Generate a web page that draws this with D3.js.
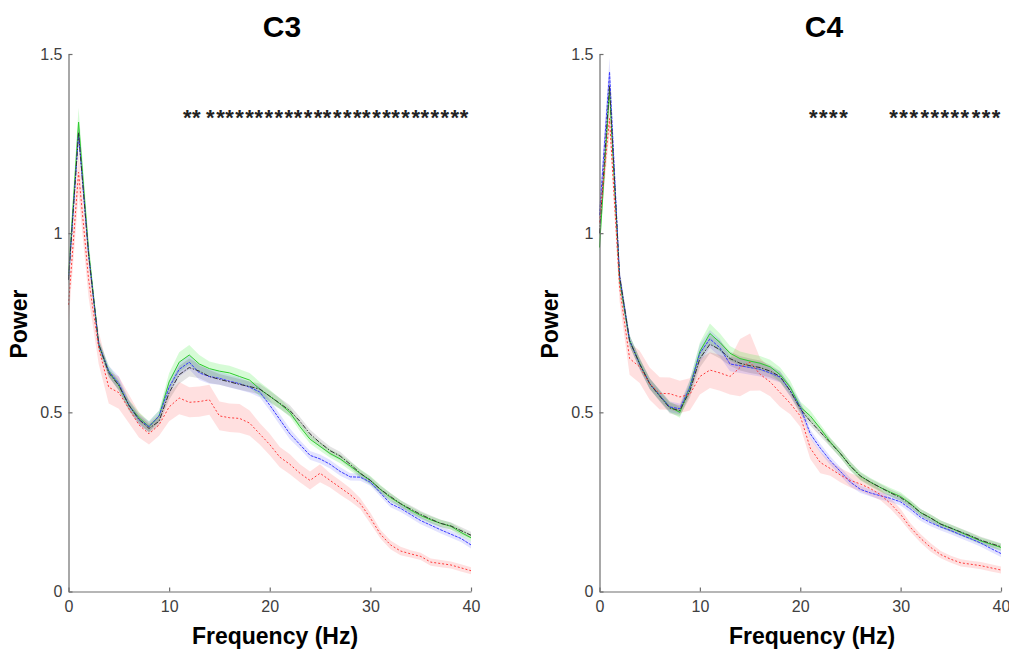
<!DOCTYPE html>
<html>
<head>
<meta charset="utf-8">
<script src="https://cdn.jsdelivr.net/npm/d3@7"></script>
<style>
  html, body { margin: 0; padding: 0; background: #fff; }
  svg { display: block; font-family: "Liberation Sans", Arial, sans-serif; }
</style>
</head>
<body>
<svg id="chart" width="1009" height="653"></svg>
<script>
// ---------------- DATA ----------------
const freqs = [0,1,2,3,4,5,6,7,8,9,10,11,12,13,14,15,16,17,18,19,20,21,22,23,24,25,26,27,28,29,30,31,32,33,34,35,36,37,38,39,40];

const c3Green = [0.88,1.31,0.95,0.69,0.615,0.575,0.52,0.485,0.46,0.49,0.585,0.64,0.66,0.635,0.622,0.615,0.61,0.60,0.59,0.565,0.545,0.524,0.50,0.46,0.425,0.405,0.385,0.37,0.35,0.329,0.31,0.285,0.262,0.245,0.227,0.212,0.20,0.19,0.182,0.165,0.15];
const c3Blue  = [0.87,1.28,0.94,0.69,0.615,0.58,0.52,0.48,0.46,0.49,0.57,0.62,0.64,0.61,0.60,0.595,0.587,0.58,0.57,0.557,0.52,0.48,0.44,0.41,0.38,0.37,0.355,0.335,0.32,0.319,0.305,0.275,0.245,0.232,0.215,0.198,0.185,0.172,0.16,0.148,0.13];
const c3Black = [0.87,1.28,0.94,0.69,0.61,0.575,0.52,0.48,0.455,0.475,0.555,0.605,0.625,0.615,0.60,0.592,0.585,0.578,0.572,0.565,0.545,0.525,0.505,0.475,0.44,0.415,0.393,0.378,0.355,0.33,0.31,0.285,0.265,0.245,0.23,0.215,0.202,0.19,0.183,0.17,0.157];
const c3Red   = [0.80,1.17,0.87,0.68,0.57,0.555,0.51,0.465,0.44,0.465,0.515,0.54,0.528,0.53,0.535,0.49,0.485,0.483,0.47,0.44,0.41,0.375,0.355,0.33,0.31,0.33,0.31,0.29,0.27,0.245,0.205,0.16,0.13,0.113,0.105,0.098,0.082,0.078,0.074,0.066,0.058];

const c3GreenErr = [0.03,0.04,0.03,0.015,0.015,0.015,0.015,0.015,0.015,0.015,0.025,0.028,0.028,0.025,0.02,0.02,0.02,0.02,0.02,0.02,0.018,0.015,0.012,0.012,0.012,0.012,0.012,0.012,0.012,0.012,0.012,0.012,0.012,0.01,0.01,0.01,0.01,0.01,0.01,0.01,0.01];
const c3BlueErr  = [0.02,0.03,0.02,0.015,0.015,0.02,0.015,0.015,0.015,0.015,0.02,0.02,0.02,0.02,0.02,0.018,0.018,0.018,0.015,0.015,0.015,0.015,0.015,0.012,0.012,0.012,0.012,0.012,0.01,0.01,0.01,0.01,0.01,0.01,0.01,0.01,0.01,0.01,0.01,0.01,0.01];
const c3BlackErr = [0.02,0.03,0.02,0.012,0.012,0.012,0.012,0.012,0.012,0.012,0.02,0.025,0.025,0.02,0.018,0.015,0.015,0.015,0.015,0.015,0.015,0.015,0.015,0.012,0.012,0.012,0.012,0.012,0.01,0.01,0.01,0.01,0.01,0.01,0.01,0.01,0.01,0.01,0.01,0.01,0.01];
const c3RedErr   = [0.05,0.06,0.05,0.045,0.045,0.045,0.04,0.035,0.03,0.03,0.04,0.045,0.042,0.042,0.042,0.04,0.04,0.04,0.035,0.03,0.03,0.028,0.028,0.025,0.025,0.025,0.02,0.02,0.018,0.015,0.015,0.012,0.012,0.012,0.01,0.01,0.01,0.01,0.01,0.01,0.01];

const c4Green = [0.96,1.40,0.87,0.70,0.637,0.58,0.547,0.515,0.50,0.57,0.67,0.72,0.695,0.665,0.65,0.643,0.637,0.627,0.605,0.57,0.515,0.49,0.455,0.417,0.385,0.35,0.322,0.305,0.29,0.277,0.265,0.245,0.22,0.205,0.188,0.177,0.165,0.153,0.141,0.132,0.123];
const c4Blue  = [1.05,1.45,0.88,0.70,0.635,0.58,0.547,0.515,0.51,0.57,0.665,0.705,0.68,0.635,0.63,0.625,0.62,0.61,0.598,0.56,0.515,0.44,0.40,0.365,0.335,0.305,0.285,0.275,0.267,0.26,0.25,0.23,0.207,0.192,0.18,0.17,0.158,0.147,0.135,0.12,0.106];
const c4Black = [1.00,1.41,0.88,0.70,0.635,0.58,0.545,0.512,0.505,0.56,0.65,0.69,0.675,0.65,0.637,0.63,0.625,0.615,0.60,0.56,0.51,0.475,0.445,0.415,0.385,0.35,0.322,0.305,0.29,0.275,0.262,0.243,0.22,0.205,0.188,0.177,0.166,0.155,0.143,0.134,0.125];
const c4Red   = [1.03,1.32,0.85,0.65,0.627,0.58,0.553,0.552,0.543,0.55,0.60,0.618,0.61,0.60,0.625,0.64,0.606,0.585,0.555,0.525,0.49,0.40,0.36,0.343,0.325,0.31,0.30,0.287,0.27,0.245,0.215,0.178,0.148,0.123,0.103,0.09,0.08,0.076,0.072,0.066,0.06];

const c4GreenErr = [0.02,0.03,0.02,0.015,0.015,0.015,0.015,0.015,0.015,0.02,0.025,0.028,0.025,0.02,0.02,0.02,0.02,0.02,0.02,0.018,0.015,0.015,0.012,0.012,0.012,0.012,0.012,0.012,0.012,0.012,0.012,0.01,0.01,0.01,0.01,0.01,0.01,0.01,0.01,0.01,0.01];
const c4BlueErr  = [0.03,0.04,0.02,0.015,0.015,0.015,0.015,0.015,0.015,0.02,0.025,0.025,0.025,0.02,0.02,0.02,0.02,0.018,0.015,0.015,0.015,0.012,0.012,0.012,0.012,0.012,0.01,0.01,0.01,0.01,0.01,0.01,0.01,0.01,0.01,0.01,0.01,0.01,0.01,0.01,0.01];
const c4BlackErr = [0.02,0.03,0.02,0.015,0.015,0.015,0.015,0.015,0.015,0.02,0.025,0.025,0.025,0.02,0.02,0.02,0.02,0.018,0.015,0.015,0.015,0.012,0.012,0.012,0.012,0.012,0.01,0.01,0.01,0.01,0.01,0.01,0.01,0.01,0.01,0.01,0.01,0.01,0.01,0.01,0.01];
const c4RedErr   = [0.04,0.04,0.04,0.045,0.045,0.045,0.045,0.045,0.045,0.045,0.05,0.05,0.05,0.05,0.08,0.08,0.045,0.04,0.04,0.03,0.03,0.03,0.03,0.02,0.02,0.02,0.02,0.02,0.015,0.015,0.015,0.012,0.012,0.012,0.01,0.01,0.01,0.01,0.01,0.01,0.01];

const xTickValues = [0,10,20,30,40];
const xTickLabels = ["0","10","20","30","40"];
const yTickValues = [0,0.5,1,1.5];
const yTickLabels = ["0","0.5","1","1.5"];

// frequencies where significance asterisks are drawn
const sigC3 = [11.8,12.7,14.1,15.1,16.0,17.0,18.0,18.9,19.9,20.9,21.9,22.8,23.8,24.8,25.7,26.7,27.7,28.7,29.6,30.6,31.6,32.5,33.5,34.5,35.4,36.4,37.4,38.4,39.3];
const sigC4 = [21.3,22.3,23.3,24.3,29.3,30.3,31.3,32.4,33.4,34.4,35.4,36.4,37.5,38.5,39.5];

const titles = ["C3","C4"];
const xLabel = "Frequency (Hz)";
const yLabel = "Power";

// ---------------- DRAW ----------------
const svg = d3.select("#chart");

const styles = {
  green: {stroke: "#2ecc2e", fill: "rgba(0,230,0,0.16)", dash: null, width: 1},
  blue:  {stroke: "#3b3bff", fill: "rgba(40,40,255,0.13)", dash: "3,1", width: 1},
  black: {stroke: "#333333", fill: "rgba(0,0,0,0.11)", dash: "5,1.5,1.5,1.5", width: 1},
  red:   {stroke: "#ff3b3b", fill: "rgba(255,60,60,0.16)", dash: "2,2", width: 1}
};

const panels = [
  {title: titles[0], x0: 68.5, x1: 471, titleX: 282, xLabelX: 275, yLabelX: 27, sig: sigC3,
   series: [
     {key: "red", vals: c3Red, err: c3RedErr},
     {key: "green", vals: c3Green, err: c3GreenErr},
     {key: "blue", vals: c3Blue, err: c3BlueErr},
     {key: "black", vals: c3Black, err: c3BlackErr}
   ]},
  {title: titles[1], x0: 599.5, x1: 1001, titleX: 824, xLabelX: 812, yLabelX: 558, sig: sigC4,
   series: [
     {key: "red", vals: c4Red, err: c4RedErr},
     {key: "green", vals: c4Green, err: c4GreenErr},
     {key: "blue", vals: c4Blue, err: c4BlueErr},
     {key: "black", vals: c4Black, err: c4BlackErr}
   ]}
];

const yTop = 54, yBottom = 591.5;

panels.forEach(p => {
  const x = d3.scaleLinear().domain([0, 40]).range([p.x0, p.x1]);
  const y = d3.scaleLinear().domain([0, 1.5]).range([yBottom, yTop]);
  const g = svg.append("g");

  // bands
  p.series.forEach(s => {
    const st = styles[s.key];
    const area = d3.area()
      .x((d, i) => x(freqs[i]))
      .y0((d, i) => y(d - s.err[i]))
      .y1((d, i) => y(d + s.err[i]));
    g.append("path").datum(s.vals)
      .attr("d", area)
      .attr("fill", st.fill)
      .attr("stroke", "none");
  });
  // lines
  const order = ["green", "blue", "black", "red"];
  order.forEach(k => {
    const s = p.series.find(d => d.key === k);
    const st = styles[k];
    const line = d3.line().x((d, i) => x(freqs[i])).y(d => y(d));
    g.append("path").datum(s.vals)
      .attr("d", line)
      .attr("fill", "none")
      .attr("stroke", st.stroke)
      .attr("stroke-width", st.width)
      .attr("stroke-dasharray", st.dash);
  });

  // axes
  const xAxis = d3.axisBottom(x).tickValues(xTickValues)
    .tickFormat((d, i) => xTickLabels[i]).tickSize(-4).tickSizeOuter(0).tickPadding(9);
  const gx = g.append("g").attr("transform", `translate(0,${yBottom})`).call(xAxis);
  const yAxis = d3.axisLeft(y).tickValues(yTickValues)
    .tickFormat((d, i) => yTickLabels[i]).tickSize(-4).tickSizeOuter(0).tickPadding(6);
  const gy = g.append("g").attr("transform", `translate(${p.x0},0)`).call(yAxis);
  [gx, gy].forEach(a => {
    a.select(".domain").attr("stroke", "#6e6e6e").attr("stroke-width", 1.2);
    a.selectAll(".tick line").attr("stroke", "#6e6e6e").attr("stroke-width", 1.2);
    a.selectAll(".tick text").attr("fill", "#404040")
      .style("font-size", "16px").style("font-family", "'Liberation Sans', Arial, sans-serif");
  });

  // significance asterisks
  g.selectAll("text.sig").data(p.sig).enter().append("text")
    .attr("class", "sig")
    .attr("x", d => x(d))
    .attr("y", 125)
    .attr("text-anchor", "middle")
    .attr("fill", "#222")
    .attr("font-weight", "bold")
    .style("font-size", "22px")
    .text("*");

  // title
  g.append("text").attr("x", p.titleX).attr("y", 37)
    .attr("text-anchor", "middle").attr("font-weight", "bold")
    .style("font-size", "30px").attr("fill", "#000").text(p.title);
  // x label
  g.append("text").attr("x", p.xLabelX).attr("y", 644)
    .attr("text-anchor", "middle").attr("font-weight", "bold")
    .style("font-size", "23px").attr("fill", "#000").text(xLabel);
  // y label
  g.append("text").attr("transform", `translate(${p.yLabelX},324) rotate(-90)`)
    .attr("text-anchor", "middle").attr("font-weight", "bold")
    .style("font-size", "23px").attr("fill", "#000").text(yLabel);
});
</script>
</body>
</html>
